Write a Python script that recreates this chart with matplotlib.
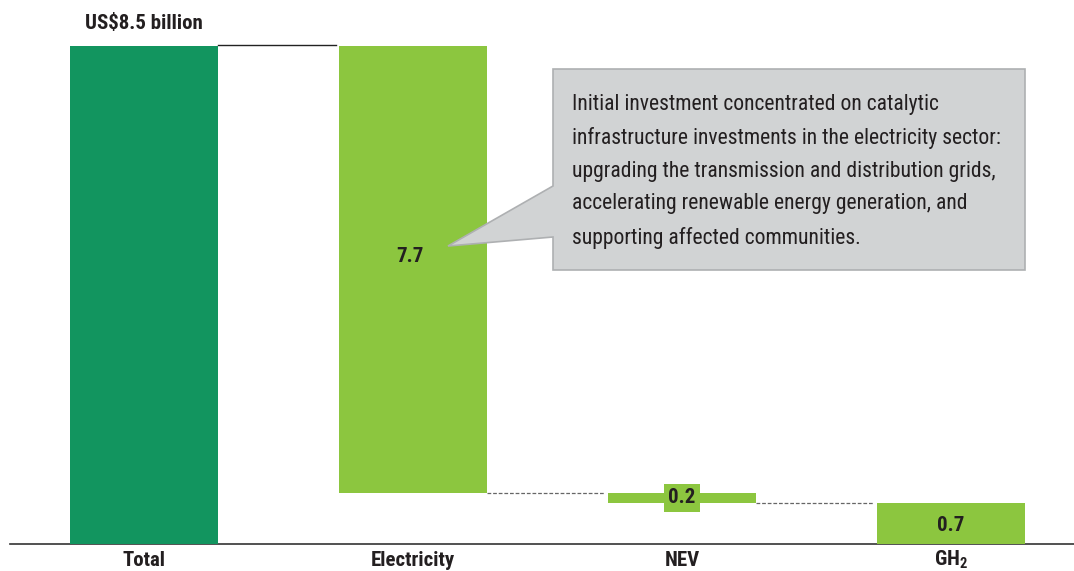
import matplotlib.pyplot as plt
from matplotlib import font_manager
from matplotlib.patches import Polygon

# waterfall data (US$ billion); heights, labels as printed
categories = ["Total", "Electricity", "NEV", "GH$_2$"]
heights = [8.5, 7.63, 0.17, 0.70]
value_labels = ["US$8.5 billion", "7.7", "0.2", "0.7"]
bar_colors = ["#12955f", "#8cc63f", "#8cc63f", "#8cc63f"]

callout_text = ("Initial investment concentrated on catalytic\n"
                "infrastructure investments in the electricity sector:\n"
                "upgrading the transmission and distribution grids,\n"
                "accelerating renewable energy generation, and\n"
                "supporting affected communities.")

# pick a narrow sans if one is installed
fonts = font_manager.fontManager.ttflist
narrow = None
for f in fonts:
    if f.name in ("Liberation Sans Narrow", "Roboto Condensed", "Open Sans Condensed"):
        narrow = f.name
        break
stretch = "normal"
if narrow is None:
    if any(f.name == "DejaVu Sans" and f.stretch == "condensed" for f in fonts):
        narrow, stretch = "DejaVu Sans", "condensed"
if narrow is None:
    family, scale = ["Roboto", "DejaVu Sans"], 0.92
else:
    family, scale = [narrow, "DejaVu Sans"], 1.0

plt.rcParams['font.family'] = family
plt.rcParams['font.stretch'] = stretch
plt.rcParams['mathtext.default'] = 'regular'
fs_big = 15 * scale
fs_box = 15.6 * scale

W, H = 1074, 571
fig = plt.figure(figsize=(W / 100, H / 100), dpi=100)
ax = fig.add_axes([10 / W, 27 / H, 1064 / W, 544 / H])

x = list(range(len(categories)))
width = 0.55

# floating bottoms: total from zero, the rest hang down from the previous bottom
bottoms = [0.0]
top = heights[0]
for h in heights[1:]:
    top -= h
    bottoms.append(top)

ax.bar(x, heights, width=width, bottom=bottoms, color=bar_colors, zorder=2)

# connectors between bars
ax.plot([x[0] + width / 2, x[1] - width / 2 - 0.01], [heights[0] + 0.02] * 2,
        color="#222222", lw=1.0, zorder=1)
for i in range(1, len(x) - 1):
    y = bottoms[i]
    ax.plot([x[i] + width / 2, x[i + 1] - width / 2 - 0.01], [y, y],
            color="#666666", lw=0.9, ls=(0, (3, 1.5)), zorder=1)

# value labels
txt = dict(fontsize=fs_big, fontweight="bold", color="#231f20")
ax.text(x[0], heights[0] + 0.22, value_labels[0], ha="center", va="bottom", **txt)
ax.text(x[1] - 0.01, 4.9, value_labels[1], ha="center", va="center", **txt)
ax.text(x[2], bottoms[2] + heights[2] / 2, value_labels[2], ha="center", va="center",
        zorder=3, bbox=dict(boxstyle="square,pad=0.2", fc="#8cc63f", ec="none"), **txt)
ax.text(x[3], bottoms[3] + heights[3] / 2 - 0.03, value_labels[3], ha="center",
        va="center", zorder=3, **txt)

ax.set_xlim(-0.498, 3.457)
ax.set_ylim(0, 544 / 58.6)
ax.set_xticks(x)
ax.set_xticklabels(categories, **txt)
for lab in ax.get_xticklabels():
    lab.set_verticalalignment("baseline")
ax.tick_params(axis="x", length=0, pad=15.5)
ax.set_yticks([])
for s in ["top", "right", "left"]:
    ax.spines[s].set_visible(False)
ax.spines["bottom"].set_color("#333333")
ax.spines["bottom"].set_linewidth(1.2)
ax.spines["bottom"].set_zorder(1)

# callout bubble, placed in figure pixels
pts = [(553, 69), (1025, 69), (1025, 270), (553, 270), (553, 237), (448, 246), (553, 186)]
poly = Polygon([(px / W, 1 - py / H) for px, py in pts], closed=True,
               transform=fig.transFigure, fc="#d1d3d4", ec="#aeb0b2", lw=1.2, zorder=5)
fig.patches.append(poly)
fig.text(572 / W, 1 - 94 / H, callout_text, ha="left", va="top", fontsize=fs_box,
         color="#231f20", linespacing=1.72, zorder=6)

fig.savefig("out.png", dpi=100)
